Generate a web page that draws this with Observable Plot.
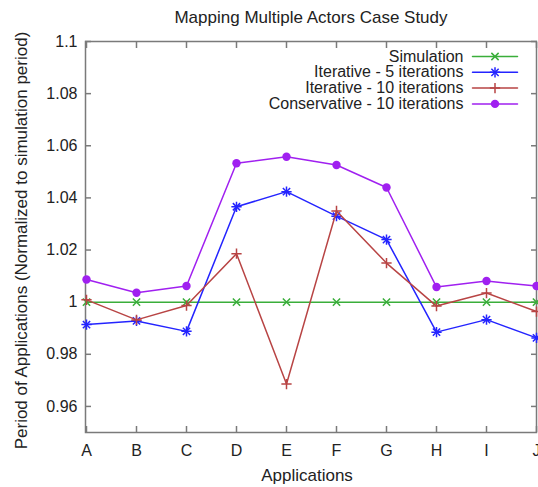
<!DOCTYPE html>
<html><head><meta charset="utf-8">
<script src="https://cdn.jsdelivr.net/npm/d3@7"></script>
<script src="https://cdn.jsdelivr.net/npm/@observablehq/plot@0.6"></script>
<style>body{margin:0;background:#fff}</style>
</head><body><div id="chart"></div>
<script>
const apps = ["A","B","C","D","E","F","G","H","I","J"];
const simulation     = [1, 1, 1, 1, 1, 1, 1, 1, 1, 1];
const iterative5     = [0.9914, 0.9928, 0.9888, 1.0366, 1.0424, 1.0330, 1.0240, 0.9885, 0.9933, 0.9863];
const iterative10    = [1.0009, 0.9932, 0.9987, 1.0186, 0.9686, 1.0350, 1.0150, 0.9985, 1.0035, 0.9964];
const conservative10 = [1.0087, 1.0036, 1.0062, 1.0533, 1.0558, 1.0526, 1.0440, 1.0058, 1.0081, 1.0062];
const seriesNames = ["Simulation", "Iterative - 5 iterations", "Iterative - 10 iterations", "Conservative - 10 iterations"];
const yTicks = [0.96, 0.98, 1.0, 1.02, 1.04, 1.06, 1.08, 1.1];
const titleText = "Mapping Multiple Actors Case Study";
const xLabel = "Applications";
const yLabel = "Period of Applications (Normalized to simulation period)";

const seriesValues = [simulation, iterative5, iterative10, conservative10];
const colors = ["#3aae3a", "#2424ff", "#b84444", "#a020f0"];
const symbolSets = [["times"], ["times", "plus"], ["plus"], ["circle"]];

const rows = [];
seriesNames.forEach((name, s) => apps.forEach((a, i) => rows.push({series: name, s, app: a, value: seriesValues[s][i]})));

const frameStroke = "#7a7a7a";
const tickFmt = d => String(+d.toFixed(2));
const lineShape = {draw(ctx, l) { ctx.moveTo(0, 0); ctx.lineTo(0, -l); }};

const marks = [
  Plot.frame({stroke: frameStroke, strokeWidth: 1.5}),
  Plot.axisY(yTicks, {anchor: "left", tickSize: 0, tickPadding: 8, tickFormat: tickFmt, fontSize: 16, fill: "#222", label: null}),
  Plot.axisY(yTicks, {anchor: "left", tickSize: -6, fill: "none", stroke: frameStroke, strokeWidth: 1.5, label: null}),
  Plot.axisY(yTicks, {anchor: "right", tickSize: -6, fill: "none", stroke: frameStroke, strokeWidth: 1.5, label: null}),
  Plot.axisX(apps, {anchor: "bottom", tickSize: 0, tickPadding: 12, fontSize: 16, fill: "#222", label: null}),
  Plot.axisX(apps, {anchor: "bottom", tickSize: -6, fill: "none", stroke: frameStroke, strokeWidth: 1.5, label: null}),
  Plot.axisX(apps, {anchor: "top", tickSize: -6, fill: "none", stroke: frameStroke, strokeWidth: 1.5, label: null}),
];

seriesNames.forEach((name, s) => {
  const data = rows.filter(d => d.s === s);
  marks.push(Plot.line(data, {x: "app", y: "value", stroke: colors[s], strokeWidth: 1.5}));
  symbolSets[s].forEach(sym => {
    if (sym === "circle") {
      marks.push(Plot.dot(data, {x: "app", y: "value", symbol: "circle", r: 4.2, fill: colors[s], stroke: "none"}));
    } else {
      marks.push(Plot.dot(data, {x: "app", y: "value", symbol: sym, r: 3.4, stroke: colors[s], strokeWidth: 1.5}));
    }
  });
});

// legend (inside, top-right)
seriesNames.forEach((name, s) => {
  const dy = 15 + s * 15.8;
  marks.push(Plot.text([name], {frameAnchor: "top-right", dx: -73, dy, textAnchor: "end", lineAnchor: "middle", fontSize: 16, fill: "#222"}));
  marks.push(Plot.vector([0], {frameAnchor: "top-right", dx: -64, dy, length: 45, rotate: 90, anchor: "start", shape: lineShape, stroke: colors[s], strokeWidth: 1.5}));
  symbolSets[s].forEach(sym => {
    if (sym === "circle") {
      marks.push(Plot.dot([0], {frameAnchor: "top-right", dx: -41.5, dy, symbol: "circle", r: 4.2, fill: colors[s], stroke: "none"}));
    } else {
      marks.push(Plot.dot([0], {frameAnchor: "top-right", dx: -41.5, dy, symbol: sym, r: 3.4, stroke: colors[s], strokeWidth: 1.5}));
    }
  });
});

// titles
marks.push(Plot.text([titleText], {frameAnchor: "top", dy: -24, fontSize: 17, fill: "#222", textAnchor: "middle", lineAnchor: "middle"}));
marks.push(Plot.text([xLabel], {frameAnchor: "bottom", dx: -4, dy: 43, fontSize: 17, fill: "#222", textAnchor: "middle", lineAnchor: "middle"}));
marks.push(Plot.text([yLabel], {frameAnchor: "left", dx: -64, dy: 3.5, rotate: -90, fontSize: 17, fill: "#222", textAnchor: "middle", lineAnchor: "middle"}));

const chart = Plot.plot({
  width: 538,
  height: 487,
  marginLeft: 85,
  marginRight: 2,
  marginTop: 41,
  marginBottom: 55,
  style: {fontFamily: "'Liberation Sans', Arial, sans-serif", fontSize: "16px", color: "#222", background: "#fff"},
  x: {type: "point", domain: apps, padding: 0},
  y: {domain: [0.95, 1.1]},
  marks
});
document.getElementById("chart").appendChild(chart);
</script>
</body></html>
